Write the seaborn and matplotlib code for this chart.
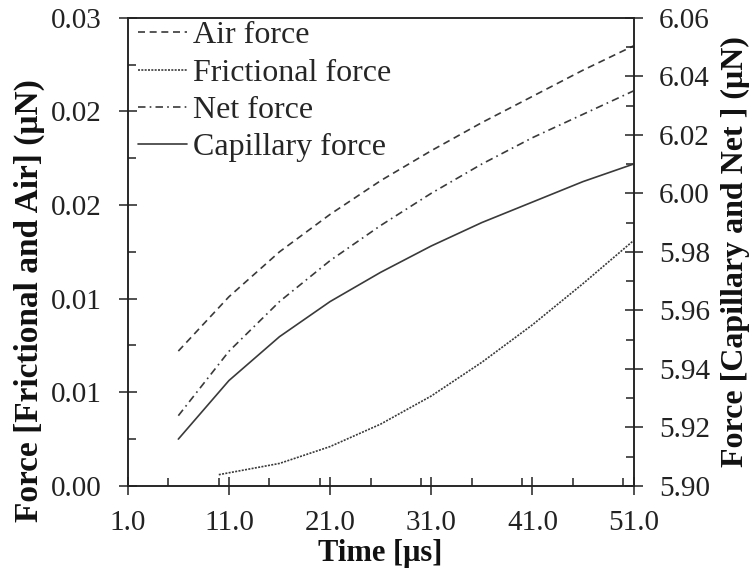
import numpy as np
import pandas as pd
import matplotlib
matplotlib.use("Agg")
import matplotlib.pyplot as plt
from matplotlib.ticker import MultipleLocator, FormatStrFormatter
from matplotlib.lines import Line2D
import seaborn as sns

# Data
time_main = [6, 11, 16, 21, 26, 31, 36, 41, 46, 51]
air_force = [0.0072, 0.0101, 0.0125, 0.0145, 0.0163, 0.0179, 0.0194, 0.0208, 0.0222, 0.0235]
net_force = [5.924, 5.946, 5.963, 5.977, 5.989, 6.000, 6.010, 6.019, 6.027, 6.035]
capillary_force = [5.916, 5.936, 5.951, 5.963, 5.973, 5.982, 5.990, 5.997, 6.004, 6.010]
time_fric = [10, 16, 21, 26, 31, 36, 41, 46, 51]
frictional_force = [0.0006, 0.0012, 0.0021, 0.0033, 0.0048, 0.0066, 0.0086, 0.0108, 0.0131]

x_ticks = [1.0, 11.0, 21.0, 31.0, 41.0, 51.0]
left_ticks = [0, 0.005, 0.010, 0.015, 0.020, 0.025]
left_tick_labels = ['0.00', '0.01', '0.01', '0.02', '0.02', '0.03']
labels = ['Air force', 'Frictional force', 'Net force', 'Capillary force']

sns.set_theme(style="white")
plt.rcParams['font.family'] = ['Liberation Serif', 'DejaVu Serif']

fig = plt.figure(figsize=(7.56, 5.73), dpi=100)
ax = fig.add_axes([0.169, 0.152, 0.669, 0.817])
ax2 = ax.twinx()

col = '#3a3a3a'
lw = 1.2
ls_air = (0, (4.2, 2.8))
ls_fric = (0, (1.2, 0.8))
ls_net = (0, (4.5, 2.5, 1.0, 2.5))
ls_cap = '-'

df_air = pd.DataFrame({'t': time_main, 'v': air_force})
df_fric = pd.DataFrame({'t': time_fric, 'v': frictional_force})
df_net = pd.DataFrame({'t': time_main, 'v': net_force})
df_cap = pd.DataFrame({'t': time_main, 'v': capillary_force})

sns.lineplot(data=df_air, x='t', y='v', ax=ax, color=col, lw=lw, linestyle=ls_air)
sns.lineplot(data=df_fric, x='t', y='v', ax=ax, color=col, lw=lw, linestyle=ls_fric)
sns.lineplot(data=df_net, x='t', y='v', ax=ax2, color=col, lw=lw, linestyle=ls_net)
sns.lineplot(data=df_cap, x='t', y='v', ax=ax2, color=col, lw=lw, linestyle=ls_cap)

ax.set_xlim(1, 51)
ax.set_ylim(0, 0.025)
ax2.set_ylim(5.90, 6.06)

ax.set_xticks(x_ticks)
ax.xaxis.set_minor_locator(MultipleLocator(5))
ax.xaxis.set_major_formatter(FormatStrFormatter('%.1f'))
ax.set_yticks(left_ticks)
ax.set_yticklabels(left_tick_labels)
ax.yaxis.set_minor_locator(MultipleLocator(0.0025))
ax2.yaxis.set_major_locator(MultipleLocator(0.02))
ax2.yaxis.set_minor_locator(MultipleLocator(0.01))
ax2.yaxis.set_major_formatter(FormatStrFormatter('%.2f'))

for a in (ax, ax2):
    for s in a.spines.values():
        s.set_color('#222222')
        s.set_linewidth(1.1)
    a.tick_params(which='major', direction='inout', length=13, width=1.1, color='#222222',
                  labelsize=21, labelcolor='#222222')
    a.tick_params(which='minor', direction='in', length=6, width=1.1, color='#222222')
ax.tick_params(axis='both', which='both', bottom=True, left=True, top=False, right=False)
ax.tick_params(axis='x', which='major', pad=11)
ax.tick_params(axis='y', which='major', pad=12)
ax2.tick_params(axis='y', which='both', right=True, left=False)
ax2.tick_params(axis='y', which='major', pad=12)

ax.set_xlabel('Time [μs]', fontsize=22, fontweight='bold', color='#111111', labelpad=2)
ax.set_ylabel('Force [Frictional and Air] (μN)', fontsize=24, fontweight='bold', color='#111111')
ax.yaxis.set_label_coords(-0.163, 0.395)
ax2.set_ylabel('Force [Capillary and Net ] (μN)', fontsize=23, fontweight='bold', color='#111111',
               rotation=90)
ax2.yaxis.set_label_coords(1.172, 0.5)

handles = [Line2D([], [], color=col, lw=lw, linestyle=s) for s in (ls_air, ls_fric, ls_net, ls_cap)]
ax2.legend(handles, labels, loc='upper left', frameon=False, fontsize=23,
           handlelength=1.55, handletextpad=0.18, labelspacing=0.25,
           borderaxespad=0.0, borderpad=0.0, bbox_to_anchor=(0.02, 0.993))

fig.savefig('out.png', dpi=100)
